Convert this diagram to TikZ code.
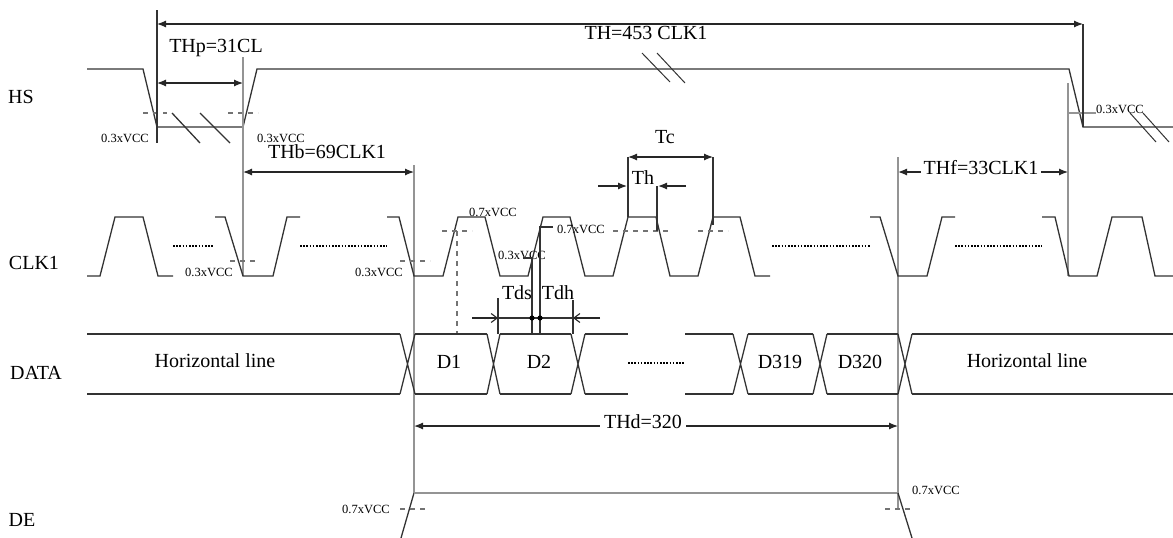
\documentclass[tikz,border=0pt]{standalone}
\usepackage{fontspec}
\setmainfont{Liberation Serif}
\usetikzlibrary{arrows.meta}
\begin{document}
\begin{tikzpicture}[x=1pt,y=-1pt,
  sig/.style={line width=1.3pt, draw=black!80},
  gry/.style={line width=1.3pt, draw=black!42},
  thr/.style={line width=1.1pt, draw=black!55, dash pattern=on 5pt off 5pt},
  dimar/.style={line width=1.2pt, draw=black!85, {Latex[length=9pt,width=7pt]}-{Latex[length=9pt,width=7pt]}},
  onear/.style={line width=1.2pt, draw=black!85, -{Latex[length=9pt,width=7pt]}},
  openar/.style={line width=1.1pt, draw=black!85, -{Straight Barb[length=6pt,width=9pt]}},
  lbl/.style={font=\fontsize{20}{23}\selectfont, inner sep=1pt},
  vcc/.style={font=\fontsize{12.5}{14}\selectfont, inner sep=0pt},
  dotl/.style={line width=1.2pt, dash pattern=on 1.6pt off 1.6pt}]
\useasboundingbox (0,0) rectangle (1173,538);

% ---------- signal names ----------
\node[lbl] (hs) at (21,97) {HS};
\node[lbl] (clk) at (34,263) {CLK1};
\node[lbl] (data) at (36,373) {DATA};
\node[lbl] (de) at (22,520) {DE};

% ---------- HS ----------
\draw[sig] (87,69) -- (143,69) -- (157,127) -- (243,127) -- (257,69) -- (1069,69) -- (1083,127) -- (1173,127);
\draw[sig] (172,113) -- (200,143) (200,113) -- (230,143);
\draw[sig, line width=1pt] (642,53) -- (670,82) (657,53) -- (685,83);
\draw[sig, line width=1pt] (1130,113) -- (1156,142) (1143,113) -- (1169,142);
\draw[thr] (143,113) -- (167,113);
\draw[thr] (228,113) -- (258,113);
\draw[gry, line width=1.1pt] (1069,113) -- (1096,113);
\node[vcc] (v1) at (125,138) {0.3xVCC};
\node[vcc] (v2) at (281,138) {0.3xVCC};
\node[vcc] (v3) at (1120,109) {0.3xVCC};

% TH
\draw[sig] (157,10) -- (157,143);
\draw[sig] (1083,24) -- (1083,127);
\draw[dimar] (157,24) -- (1083,24);
\node[lbl, fill=white, inner xsep=4pt] (th) at (646,33) {TH=453 CLK1};

% THp
\draw[dimar] (157,83) -- (243,83);
\node[lbl] (thp) at (216,48) {THp=31CL};

% grey boundary lines
\draw[gry] (243,57) -- (243,276);
\draw[gry] (414,165) -- (414,493);
\draw[gry] (898,157) -- (898,509);
\draw[gry] (1068,83) -- (1068,276);

% THb
\draw[dimar] (243,172) -- (414,172);
\node[lbl] (thb) at (327,152) {THb=69CLK1};

% THf
\draw[dimar] (898,172) -- (1068,172);
\node[lbl, fill=white, inner xsep=3pt] (thf) at (981,168) {THf=33CLK1};

% ---------- CLK1 ----------
\draw[sig] (87,276) -- (100,276) -- (115,217) -- (143,217) -- (158,276) -- (173,276);
\draw[dotl] (173,246) -- (213,246);
\draw[sig] (215,217) -- (225,217) -- (243,276) -- (273,276) -- (287,217) -- (300,217);
\draw[dotl] (300,246) -- (387,246);
\draw[sig] (387,217) -- (399,217) -- (414,276) -- (443,276) -- (458,217) -- (485,217)
  -- (500,276) -- (528,276) -- (543,217) -- (570,217) -- (585,276) -- (613,276)
  -- (628,217) -- (656,217) -- (670,276) -- (698,276) -- (713,217) -- (740,217)
  -- (755,276) -- (770,276);
\draw[dotl] (772,246) -- (870,246);
\draw[sig] (870,217) -- (880,217) -- (898,276) -- (927,276) -- (942,217) -- (955,217);
\draw[dotl] (955,246) -- (1042,246);
\draw[sig] (1042,217) -- (1055,217) -- (1069,276) -- (1097,276) -- (1112,217) -- (1142,217) -- (1155,276) -- (1173,276);

\draw[thr] (230,261) -- (258,261);
\draw[thr] (400,261) -- (430,261);
\node[vcc] (v4) at (209,272) {0.3xVCC};
\node[vcc] (v5) at (379,272) {0.3xVCC};

\draw[thr] (442,231) -- (472,231);
\draw[thr] (457,231) -- (457,334);
\node[vcc] (v6) at (493,212) {0.7xVCC};
\node[vcc] (v7) at (522,255) {0.3xVCC};
\node[vcc] (v8) at (581,229) {0.7xVCC};
\draw[thr] (613,231) -- (672,231);
\draw[thr] (698,231) -- (728,231);

% Tc
\draw[sig, line width=1.1pt] (628,157) -- (628,217);
\draw[sig, line width=1.1pt] (713,157) -- (713,225);
\draw[dimar] (628,157) -- (713,157);
\node[lbl] (tc) at (665,137) {Tc};

% Th
\draw[sig, line width=1.1pt] (657,186) -- (657,231);
\draw[onear] (598,186) -- (627,186);
\draw[onear] (686,186) -- (658,186);
\node[lbl] (thh) at (643,178) {Th};

% Tds / Tdh
\draw[sig, line width=1.1pt] (498,298) -- (498,334);
\draw[sig, line width=1.1pt] (523,258) -- (532,258) -- (532,334);
\draw[sig, line width=1.1pt] (553,227) -- (540,227) -- (540,334);
\draw[sig, line width=1.1pt] (573,300) -- (573,334);
\draw[sig, line width=1.1pt] (498,318) -- (573,318);
\draw[openar] (472,318) -- (498,318);
\draw[openar] (600,318) -- (573,318);
\fill (532,318) circle (2.6pt);
\fill (540,318) circle (2.6pt);
\node[lbl] (tds) at (517,293) {Tds};
\node[lbl] (tdh) at (558,293) {Tdh};

% ---------- DATA ----------
\foreach \a/\b in {87/400, 415/487, 500/571, 585/628, 685/733, 748/813, 827/898, 912/1173}
  \draw[sig] (\a,334) -- (\b,334) (\a,394) -- (\b,394);
\foreach \a/\b in {400/415, 487/500, 571/585, 733/748, 813/827, 898/912}
  \draw[sig] (\a,334) -- (\b,394) (\a,394) -- (\b,334);
\draw[dotl] (628,363) -- (685,363);
\node[lbl] (hl1) at (215,361) {Horizontal line};
\node[lbl] (d1) at (449,362) {D1};
\node[lbl] (d2) at (539,362) {D2};
\node[lbl] (d319) at (780,362) {D319};
\node[lbl] (d320) at (860,362) {D320};
\node[lbl] (hl2) at (1027,361) {Horizontal line};

% THd
\draw[dimar] (414,426) -- (898,426);
\node[lbl, fill=white, inner xsep=4pt] (thd) at (643,422) {THd=320};

% ---------- DE ----------
\draw[sig] (401,538) -- (414,493);
\draw[gry] (414,493) -- (898,493);
\draw[sig] (898,493) -- (912,538);
\draw[thr] (400,509) -- (429,509);
\draw[thr] (885,509) -- (913,509);
\node[vcc] (v9) at (366,509) {0.7xVCC};
\node[vcc] (v10) at (936,490) {0.7xVCC};
\end{tikzpicture}
\end{document}
